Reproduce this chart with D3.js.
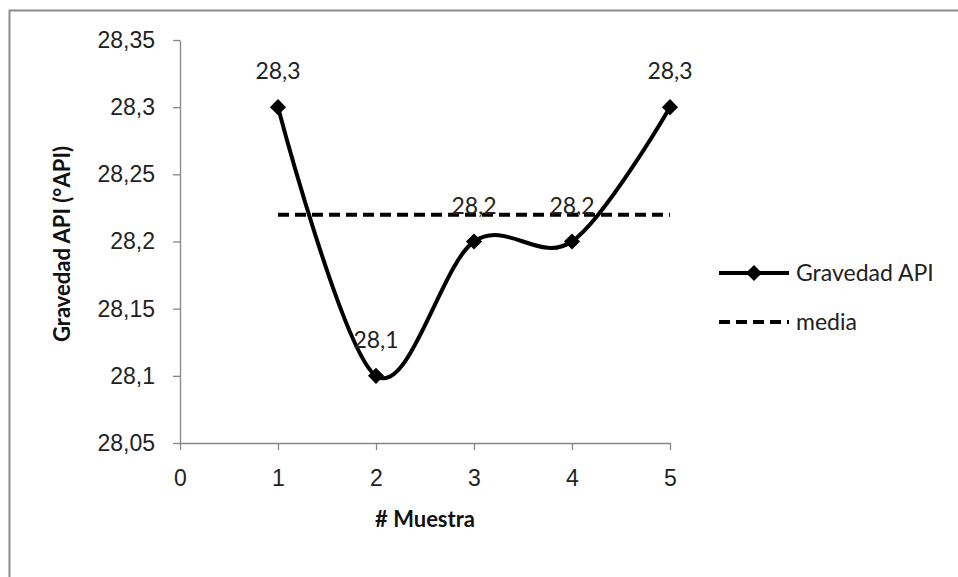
<!DOCTYPE html>
<html>
<head>
<meta charset="utf-8">
<script src="https://cdn.jsdelivr.net/npm/d3@7"></script>
<style>
  body { margin: 0; background: #fff; }
  svg { display: block; font-family: Lato, "Open Sans", sans-serif; }
</style>
</head>
<body>
<div id="chart"></div>
<script>
// data
const samples = [1, 2, 3, 4, 5];
const gravedad = [28.3, 28.1, 28.2, 28.2, 28.3];
const mediaX = [1, 5];
const mediaY = [28.22, 28.22];
const xTicks = [0, 1, 2, 3, 4, 5];
const yTicks = [28.05, 28.1, 28.15, 28.2, 28.25, 28.3, 28.35];
const seriesNames = ["Gravedad API", "media"];

const W = 958, H = 577;
const plot = {left: 180, right: 670, top: 40, bottom: 443};

const svg = d3.select("#chart").append("svg")
    .attr("width", W).attr("height", H);

// outer chart border (runs off the right/bottom edge)
svg.append("rect")
    .attr("x", 9.5).attr("y", 10.5)
    .attr("width", W + 20).attr("height", H + 20)
    .attr("fill", "none").attr("stroke", "#8c8c8c").attr("stroke-width", 2);

const x = d3.scaleLinear().domain([0, 5]).range([plot.left, plot.right]);
const y = d3.scaleLinear().domain([28.05, 28.35]).range([plot.bottom, plot.top]);

const fmt = v => String(v).replace(".", ",");

// axes
const xAxis = svg.append("g")
    .attr("transform", `translate(0,${plot.bottom})`)
    .call(d3.axisBottom(x).tickValues(xTicks).tickFormat(fmt).tickSizeInner(7).tickSizeOuter(0).tickPadding(20));
const yAxis = svg.append("g")
    .attr("transform", `translate(${plot.left},0)`)
    .call(d3.axisLeft(y).tickValues(yTicks).tickFormat(fmt).tickSizeInner(7).tickSizeOuter(0).tickPadding(18));

[xAxis, yAxis].forEach(a => {
    a.select(".domain").attr("stroke", "#868686").attr("stroke-width", 1.3);
    a.selectAll(".tick line").attr("stroke", "#868686").attr("stroke-width", 1.3);
    a.selectAll(".tick text").attr("fill", "#222").style("font-size", "23px");
});

// axis titles
svg.append("text")
    .attr("x", (plot.left + plot.right) / 2).attr("y", 527)
    .attr("text-anchor", "middle")
    .style("font-size", "22px").style("font-weight", "bold").attr("fill", "#111")
    .text("# Muestra");

svg.append("text")
    .attr("transform", `translate(70,244) rotate(-90)`)
    .attr("text-anchor", "middle")
    .style("font-size", "22px").style("font-weight", "bold").attr("fill", "#111")
    .text("Gravedad API (°API)");

// mean line
svg.append("path")
    .datum(mediaX.map((d, i) => [d, mediaY[i]]))
    .attr("d", d3.line().x(d => x(d[0])).y(d => y(d[1])))
    .attr("fill", "none").attr("stroke", "#000").attr("stroke-width", 4)
    .attr("stroke-dasharray", "11,6");

// smoothed series
const pts = samples.map((d, i) => [d, gravedad[i]]);
svg.append("path")
    .datum(pts)
    .attr("d", d3.line().x(d => x(d[0])).y(d => y(d[1])).curve(d3.curveCatmullRom.alpha(0)))
    .attr("fill", "none").attr("stroke", "#000").attr("stroke-width", 4);

const marker = d3.symbol().type(d3.symbolSquare).size(130);
svg.selectAll(".pt")
    .data(pts)
    .enter().append("path")
    .attr("d", marker)
    .attr("transform", d => `translate(${x(d[0])},${y(d[1])}) rotate(45)`)
    .attr("fill", "#000");

// data labels
svg.selectAll(".lbl")
    .data(pts)
    .enter().append("text")
    .attr("x", d => x(d[0])).attr("y", d => y(d[1]) - 28)
    .attr("text-anchor", "middle")
    .style("font-size", "23px").attr("fill", "#222")
    .text(d => fmt(d[1]));

// legend
const legend = svg.append("g").attr("transform", "translate(719,0)");
legend.append("line")
    .attr("x1", 0).attr("x2", 70).attr("y1", 273).attr("y2", 273)
    .attr("stroke", "#000").attr("stroke-width", 4);
legend.append("path")
    .attr("d", marker)
    .attr("transform", "translate(35,273) rotate(45)")
    .attr("fill", "#000");
legend.append("line")
    .attr("x1", 0).attr("x2", 70).attr("y1", 322).attr("y2", 322)
    .attr("stroke", "#000").attr("stroke-width", 4).attr("stroke-dasharray", "11,6");
legend.selectAll(".leg-label")
    .data(seriesNames)
    .enter().append("text")
    .attr("x", 77).attr("y", (d, i) => 273 + i * 49)
    .attr("dy", "0.35em")
    .style("font-size", "23px").attr("fill", "#222")
    .text(d => d);
</script>
</body>
</html>
